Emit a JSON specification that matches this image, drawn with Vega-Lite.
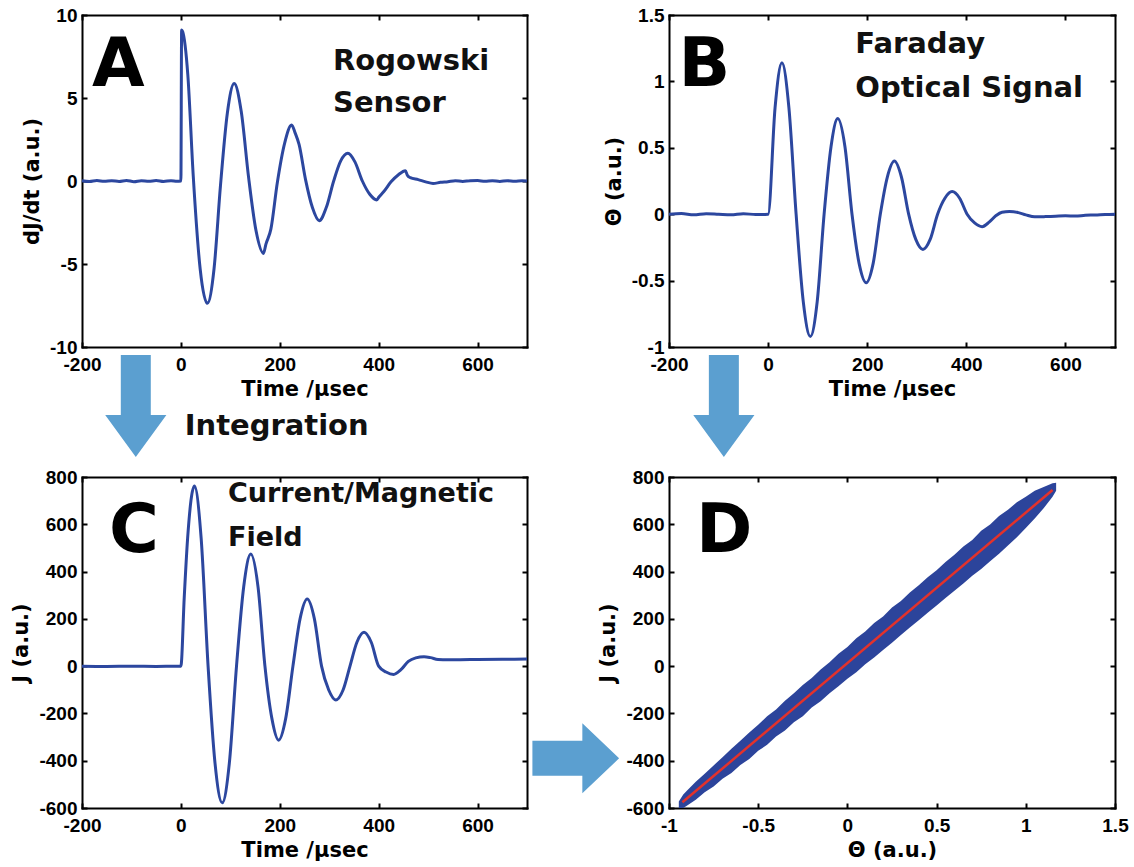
{
  "$schema": "https://vega.github.io/schema/vega-lite/v6.json",
  "background": "white",
  "padding": {"left": 10, "top": 6, "right": 5, "bottom": 5},
  "columns": 2,
  "bounds": "flush",
  "align": "all",
  "spacing": {"row": 130, "column": 141},
  "datasets": {
    "a": [
      {"t": -200, "v": 0.02}, {"t": -185, "v": -0.03}, {"t": -170, "v": 0.03}, {"t": -155, "v": -0.02}, {"t": -140, "v": 0.02}, {"t": -125, "v": -0.03}, {"t": -110, "v": 0.03}, {"t": -95, "v": -0.04}, {"t": -80, "v": 0.02}, {"t": -65, "v": -0.02}, {"t": -50, "v": 0.03}, {"t": -35, "v": -0.03}, {"t": -20, "v": 0.02}, {"t": -8, "v": -0.02}, {"t": 0, "v": 0},
      {"t": 1.5, "v": 9.1}, {"t": 3.5, "v": 9.0}, {"t": 14, "v": 6.4}, {"t": 25, "v": 0.3}, {"t": 39, "v": -5.3}, {"t": 53.5, "v": -7.37}, {"t": 67, "v": -5.3}, {"t": 80, "v": -0.3}, {"t": 94, "v": 4.1}, {"t": 107.8, "v": 5.88}, {"t": 122, "v": 4.2}, {"t": 137, "v": 0.2}, {"t": 152, "v": -3.0}, {"t": 167, "v": -4.36}, {"t": 172, "v": -3.8}, {"t": 182, "v": -2.9}, {"t": 195, "v": -0.1}, {"t": 210, "v": 2.3}, {"t": 224, "v": 3.37}, {"t": 231, "v": 2.9}, {"t": 239, "v": 2.2}, {"t": 252, "v": 0.1}, {"t": 266, "v": -1.6}, {"t": 279.8, "v": -2.39}, {"t": 294, "v": -1.6}, {"t": 309, "v": 0.0}, {"t": 323, "v": 1.2}, {"t": 337.7, "v": 1.67}, {"t": 352, "v": 1.15}, {"t": 367, "v": 0.0}, {"t": 382, "v": -0.8}, {"t": 396, "v": -1.14}, {"t": 401, "v": -0.95}, {"t": 410, "v": -0.65}, {"t": 425, "v": -0.05}, {"t": 440, "v": 0.38}, {"t": 454, "v": 0.62}, {"t": 458, "v": 0.35}, {"t": 464, "v": 0.2}, {"t": 480, "v": 0.08}, {"t": 495, "v": -0.05}, {"t": 510, "v": -0.15}, {"t": 525, "v": -0.08}, {"t": 540, "v": -0.04}, {"t": 555, "v": 0.02}, {"t": 570, "v": -0.03}, {"t": 585, "v": 0.02}, {"t": 600, "v": 0.03}, {"t": 615, "v": -0.02}, {"t": 630, "v": 0.02}, {"t": 645, "v": -0.03}, {"t": 660, "v": 0.02}, {"t": 675, "v": -0.02}, {"t": 690, "v": 0.02}, {"t": 700, "v": 0.0}
    ],
    "b": [
      {"t": -200, "v": 0.0}, {"t": -175, "v": 0.005}, {"t": -150, "v": -0.005}, {"t": -125, "v": 0.004}, {"t": -100, "v": 0.0}, {"t": -75, "v": -0.004}, {"t": -50, "v": 0.004}, {"t": -25, "v": -0.003}, {"t": 0, "v": 0.0},
      {"t": 14, "v": 0.8}, {"t": 27.9, "v": 1.14}, {"t": 42, "v": 0.8}, {"t": 56.5, "v": 0}, {"t": 71, "v": -0.66}, {"t": 85.3, "v": -0.92}, {"t": 99, "v": -0.66}, {"t": 113, "v": 0}, {"t": 127, "v": 0.51}, {"t": 140.6, "v": 0.72}, {"t": 155, "v": 0.51}, {"t": 169.3, "v": 0}, {"t": 183.6, "v": -0.37}, {"t": 198, "v": -0.516}, {"t": 212, "v": -0.37}, {"t": 226.4, "v": 0}, {"t": 240.6, "v": 0.28}, {"t": 254.8, "v": 0.4}, {"t": 269, "v": 0.28}, {"t": 283.6, "v": 0}, {"t": 298, "v": -0.19}, {"t": 312.4, "v": -0.265}, {"t": 327, "v": -0.19}, {"t": 342, "v": 0}, {"t": 356.7, "v": 0.12}, {"t": 371.4, "v": 0.17}, {"t": 386.5, "v": 0.12}, {"t": 401.6, "v": 0}, {"t": 416.7, "v": -0.066}, {"t": 431.8, "v": -0.094}, {"t": 446, "v": -0.06}, {"t": 460, "v": -0.01}, {"t": 472, "v": 0.015}, {"t": 487, "v": 0.02}, {"t": 505, "v": 0.012}, {"t": 520, "v": -0.005}, {"t": 538, "v": -0.02}, {"t": 560, "v": -0.018}, {"t": 580, "v": -0.015}, {"t": 600, "v": -0.012}, {"t": 620, "v": -0.014}, {"t": 640, "v": -0.008}, {"t": 660, "v": -0.006}, {"t": 680, "v": -0.002}, {"t": 700, "v": 0.0}
    ],
    "c": [
      {"t": -200, "v": 0}, {"t": -150, "v": -1}, {"t": -100, "v": 0}, {"t": -50, "v": -1}, {"t": -10, "v": 0}, {"t": 0, "v": 0},
      {"t": 6.8, "v": 292}, {"t": 13.6, "v": 540}, {"t": 27.3, "v": 762}, {"t": 41, "v": 540}, {"t": 55, "v": 0}, {"t": 69, "v": -410}, {"t": 83.6, "v": -578}, {"t": 98, "v": -410}, {"t": 112.5, "v": 0}, {"t": 127, "v": 335}, {"t": 141.4, "v": 474}, {"t": 156, "v": 335}, {"t": 170, "v": 0}, {"t": 184, "v": -221}, {"t": 197.7, "v": -313}, {"t": 212, "v": -221}, {"t": 226.6, "v": 0}, {"t": 241, "v": 200}, {"t": 255.5, "v": 284}, {"t": 270, "v": 200}, {"t": 284.5, "v": 0}, {"t": 299, "v": -101}, {"t": 313.4, "v": -143}, {"t": 328, "v": -101}, {"t": 342, "v": 0}, {"t": 356, "v": 101}, {"t": 370.4, "v": 143}, {"t": 385, "v": 101}, {"t": 400, "v": 0}, {"t": 415, "v": -25}, {"t": 430.3, "v": -35}, {"t": 445, "v": -15}, {"t": 460, "v": 20}, {"t": 475, "v": 35}, {"t": 491.7, "v": 40}, {"t": 505, "v": 36}, {"t": 520, "v": 28}, {"t": 540, "v": 27}, {"t": 560, "v": 27}, {"t": 600, "v": 28}, {"t": 650, "v": 29}, {"t": 700, "v": 30}
    ],
    "dband": [
      {"theta": -0.945, "lo": -600, "hi": -572}, {"theta": -0.92, "lo": -600, "hi": -543}, {"theta": -0.9, "lo": -591, "hi": -527}, {"theta": -0.85, "lo": -565, "hi": -489}, {"theta": -0.8, "lo": -533, "hi": -455}, {"theta": -0.75, "lo": -509, "hi": -420}, {"theta": -0.7, "lo": -476, "hi": -385}, {"theta": -0.65, "lo": -452, "hi": -349}, {"theta": -0.6, "lo": -418, "hi": -316}, {"theta": -0.55, "lo": -393, "hi": -281}, {"theta": -0.5, "lo": -358, "hi": -248}, {"theta": -0.45, "lo": -333, "hi": -212}, {"theta": -0.4, "lo": -298, "hi": -183}, {"theta": -0.35, "lo": -272, "hi": -146}, {"theta": -0.3, "lo": -237, "hi": -115}, {"theta": -0.25, "lo": -212, "hi": -80}, {"theta": -0.2, "lo": -175, "hi": -50}, {"theta": -0.15, "lo": -149, "hi": -14}, {"theta": -0.1, "lo": -115, "hi": 16}, {"theta": -0.05, "lo": -85, "hi": 52}, {"theta": 0.0, "lo": -53, "hi": 81}, {"theta": 0.05, "lo": -26, "hi": 118}, {"theta": 0.1, "lo": 8, "hi": 146}, {"theta": 0.15, "lo": 37, "hi": 183}, {"theta": 0.2, "lo": 68, "hi": 210}, {"theta": 0.25, "lo": 99, "hi": 248}, {"theta": 0.3, "lo": 132, "hi": 276}, {"theta": 0.35, "lo": 163, "hi": 311}, {"theta": 0.4, "lo": 194, "hi": 342}, {"theta": 0.45, "lo": 226, "hi": 376}, {"theta": 0.5, "lo": 256, "hi": 406}, {"theta": 0.55, "lo": 288, "hi": 441}, {"theta": 0.6, "lo": 319, "hi": 471}, {"theta": 0.65, "lo": 350, "hi": 506}, {"theta": 0.7, "lo": 382, "hi": 534}, {"theta": 0.75, "lo": 411, "hi": 573}, {"theta": 0.8, "lo": 444, "hi": 599}, {"theta": 0.85, "lo": 475, "hi": 635}, {"theta": 0.9, "lo": 510, "hi": 661}, {"theta": 0.95, "lo": 545, "hi": 693}, {"theta": 1.0, "lo": 584, "hi": 716}, {"theta": 1.05, "lo": 624, "hi": 742}, {"theta": 1.1, "lo": 668, "hi": 758}, {"theta": 1.15, "lo": 716, "hi": 774}, {"theta": 1.17, "lo": 742, "hi": 776}
    ],
    "dfit": [{"theta": -0.925, "j": -576}, {"theta": 1.15, "j": 745}],
    "txtA": [{"x": 307.7, "y": 6.69, "text": "Rogowski"}, {"x": 307.7, "y": 4.17, "text": "Sensor"}, {"x": 7.7, "y": -15.3, "text": "Integration"}],
    "letA": [{"x": -179.8, "y": 5.72, "text": "A"}],
    "arrowA": [{"x": -91.2, "y": -13.55}],
    "txtB": [{"x": 175.9, "y": 1.212, "text": "Faraday"}, {"x": 175.9, "y": 0.885, "text": "Optical Signal"}],
    "letB": [{"x": -180.9, "y": 0.965, "text": "B"}],
    "arrowB": [{"x": -89.3, "y": -1.444}],
    "txtC": [{"x": 95.3, "y": 695.4, "text": "Current/Magnetic"}, {"x": 95.3, "y": 509.3, "text": "Field"}],
    "letC": [{"x": -145.4, "y": 482.7, "text": "C"}],
    "arrowC": [{"x": 798.6, "y": -390}],
    "letD": [{"x": -0.849, "y": 482.7, "text": "D"}]
  },
  "concat": [
    {
      "width": 445, "height": 332,
      "layer": [
        {
          "data": {"name": "a"},
          "mark": {"type": "line", "color": "#2C479F", "strokeWidth": 3, "interpolate": "monotone"},
          "encoding": {
            "x": {"field": "t", "type": "quantitative", "scale": {"domain": [-200, 700], "nice": false, "zero": false},
                  "axis": {"orient": "bottom", "title": "Time /µsec", "values": [-200, 0, 200, 400, 600], "labelExpr": "replace(format(datum.value, '~g'), '\u2212', '-')"}},
            "y": {"field": "v", "type": "quantitative", "scale": {"domain": [-10, 10], "nice": false, "zero": false},
                  "axis": {"orient": "left", "title": "dJ/dt (a.u.)", "values": [-10, -5, 0, 5, 10], "labelExpr": "replace(format(datum.value, '~g'), '\u2212', '-')"}}
          }
        },
        {
          "data": {"name": "letA"},
          "mark": {"type": "text", "font": "DejaVu Sans", "fontWeight": "bold", "fontSize": 68, "align": "left", "baseline": "alphabetic", "color": "#000"},
          "encoding": {
            "x": {"field": "x", "type": "quantitative", "axis": {"orient": "top", "labels": false, "title": null, "values": [-200, 0, 200, 400, 600]}},
            "y": {"field": "y", "type": "quantitative", "axis": {"orient": "right", "labels": false, "title": null, "values": [-10, -5, 0, 5, 10]}},
            "text": {"field": "text"}
          }
        },
        {
          "data": {"name": "txtA"},
          "mark": {"type": "text", "font": "DejaVu Sans", "fontWeight": "bold", "fontSize": 29, "align": "left", "baseline": "alphabetic", "color": "#111"},
          "encoding": {
            "x": {"field": "x", "type": "quantitative", "axis": null},
            "y": {"field": "y", "type": "quantitative", "axis": null},
            "text": {"field": "text"}
          }
        },
        {
          "data": {"name": "arrowA"},
          "mark": {"type": "point", "shape": "M-0.294,-1 L0.294,-1 L0.294,0.176 L0.6,0.176 L0,1 L-0.6,0.176 L-0.294,0.176 Z", "size": 10404, "filled": true, "color": "#5B9FD0", "opacity": 1, "strokeWidth": 0},
          "encoding": {
            "x": {"field": "x", "type": "quantitative", "axis": null},
            "y": {"field": "y", "type": "quantitative", "axis": null}
          }
        }
      ]
    },
    {
      "width": 446, "height": 332,
      "layer": [
        {
          "data": {"name": "b"},
          "mark": {"type": "line", "color": "#2C479F", "strokeWidth": 3, "interpolate": "monotone"},
          "encoding": {
            "x": {"field": "t", "type": "quantitative", "scale": {"domain": [-200, 700], "nice": false, "zero": false},
                  "axis": {"orient": "bottom", "title": "Time /µsec", "values": [-200, 0, 200, 400, 600], "labelExpr": "replace(format(datum.value, '~g'), '\u2212', '-')"}},
            "y": {"field": "v", "type": "quantitative", "scale": {"domain": [-1, 1.5], "nice": false, "zero": false},
                  "axis": {"orient": "left", "title": "Θ (a.u.)", "values": [-1, -0.5, 0, 0.5, 1, 1.5], "labelExpr": "replace(format(datum.value, '~g'), '\u2212', '-')"}}
          }
        },
        {
          "data": {"name": "letB"},
          "mark": {"type": "text", "font": "DejaVu Sans", "fontWeight": "bold", "fontSize": 68, "align": "left", "baseline": "alphabetic", "color": "#000"},
          "encoding": {
            "x": {"field": "x", "type": "quantitative", "axis": {"orient": "top", "labels": false, "title": null, "values": [-200, 0, 200, 400, 600]}},
            "y": {"field": "y", "type": "quantitative", "axis": {"orient": "right", "labels": false, "title": null, "values": [-1, -0.5, 0, 0.5, 1, 1.5]}},
            "text": {"field": "text"}
          }
        },
        {
          "data": {"name": "txtB"},
          "mark": {"type": "text", "font": "DejaVu Sans", "fontWeight": "bold", "fontSize": 29, "align": "left", "baseline": "alphabetic", "color": "#111"},
          "encoding": {
            "x": {"field": "x", "type": "quantitative", "axis": null},
            "y": {"field": "y", "type": "quantitative", "axis": null},
            "text": {"field": "text"}
          }
        },
        {
          "data": {"name": "arrowB"},
          "mark": {"type": "point", "shape": "M-0.294,-1 L0.294,-1 L0.294,0.176 L0.6,0.176 L0,1 L-0.6,0.176 L-0.294,0.176 Z", "size": 10404, "filled": true, "color": "#5B9FD0", "opacity": 1, "strokeWidth": 0},
          "encoding": {
            "x": {"field": "x", "type": "quantitative", "axis": null},
            "y": {"field": "y", "type": "quantitative", "axis": null}
          }
        }
      ]
    },
    {
      "width": 445, "height": 331,
      "layer": [
        {
          "data": {"name": "c"},
          "mark": {"type": "line", "color": "#2C479F", "strokeWidth": 3, "interpolate": "monotone"},
          "encoding": {
            "x": {"field": "t", "type": "quantitative", "scale": {"domain": [-200, 700], "nice": false, "zero": false},
                  "axis": {"orient": "bottom", "title": "Time /µsec", "values": [-200, 0, 200, 400, 600], "labelExpr": "replace(format(datum.value, '~g'), '\u2212', '-')"}},
            "y": {"field": "v", "type": "quantitative", "scale": {"domain": [-600, 800], "nice": false, "zero": false},
                  "axis": {"orient": "left", "title": "J (a.u.)", "values": [-600, -400, -200, 0, 200, 400, 600, 800], "labelExpr": "replace(format(datum.value, '~g'), '\u2212', '-')"}}
          }
        },
        {
          "data": {"name": "letC"},
          "mark": {"type": "text", "font": "DejaVu Sans", "fontWeight": "bold", "fontSize": 68, "align": "left", "baseline": "alphabetic", "color": "#000"},
          "encoding": {
            "x": {"field": "x", "type": "quantitative", "axis": {"orient": "top", "labels": false, "title": null, "values": [-200, 0, 200, 400, 600]}},
            "y": {"field": "y", "type": "quantitative", "axis": {"orient": "right", "labels": false, "title": null, "values": [-600, -400, -200, 0, 200, 400, 600, 800]}},
            "text": {"field": "text"}
          }
        },
        {
          "data": {"name": "txtC"},
          "mark": {"type": "text", "font": "DejaVu Sans", "fontWeight": "bold", "fontSize": 27, "align": "left", "baseline": "alphabetic", "color": "#111"},
          "encoding": {
            "x": {"field": "x", "type": "quantitative", "axis": null},
            "y": {"field": "y", "type": "quantitative", "axis": null},
            "text": {"field": "text"}
          }
        },
        {
          "data": {"name": "arrowC"},
          "mark": {"type": "point", "shape": "M-1,-0.404 L0.152,-0.404 L0.152,-0.807 L1,0 L0.152,0.807 L0.152,0.404 L-1,0.404 Z", "size": 7516, "filled": true, "color": "#5B9FD0", "opacity": 1, "strokeWidth": 0},
          "encoding": {
            "x": {"field": "x", "type": "quantitative", "axis": null},
            "y": {"field": "y", "type": "quantitative", "axis": null}
          }
        }
      ]
    },
    {
      "width": 446, "height": 331,
      "layer": [
        {
          "data": {"name": "dband"},
          "mark": {"type": "area", "color": "#2C449B", "opacity": 1},
          "encoding": {
            "x": {"field": "theta", "type": "quantitative", "scale": {"domain": [-1, 1.5], "nice": false, "zero": false},
                  "axis": {"orient": "bottom", "title": "Θ (a.u.)", "values": [-1, -0.5, 0, 0.5, 1, 1.5], "labelExpr": "replace(format(datum.value, '~g'), '\u2212', '-')"}},
            "y": {"field": "lo", "type": "quantitative", "scale": {"domain": [-600, 800], "nice": false, "zero": false},
                  "axis": {"orient": "left", "title": "J (a.u.)", "values": [-600, -400, -200, 0, 200, 400, 600, 800], "labelExpr": "replace(format(datum.value, '~g'), '\u2212', '-')"}},
            "y2": {"field": "hi"}
          }
        },
        {
          "data": {"name": "dfit"},
          "mark": {"type": "line", "color": "#E3322B", "strokeWidth": 2.5},
          "encoding": {
            "x": {"field": "theta", "type": "quantitative", "axis": null},
            "y": {"field": "j", "type": "quantitative", "axis": null}
          }
        },
        {
          "data": {"name": "letD"},
          "mark": {"type": "text", "font": "DejaVu Sans", "fontWeight": "bold", "fontSize": 68, "align": "left", "baseline": "alphabetic", "color": "#000"},
          "encoding": {
            "x": {"field": "x", "type": "quantitative", "axis": {"orient": "top", "labels": false, "title": null, "values": [-1, -0.5, 0, 0.5, 1, 1.5]}},
            "y": {"field": "y", "type": "quantitative", "axis": {"orient": "right", "labels": false, "title": null, "values": [-600, -400, -200, 0, 200, 400, 600, 800]}},
            "text": {"field": "text"}
          }
        }
      ]
    }
  ],
  "config": {
    "view": {"stroke": null},
    "axis": {
      "grid": false, "domainColor": "#000", "domainWidth": 2, "domainCap": "square",
      "tickColor": "#000", "tickWidth": 2, "tickSize": -5,
      "labelFont": "Liberation Sans", "labelFontSize": 19, "labelFontWeight": "bold", "labelColor": "#000",
      "labelOverlap": false, "labelFlush": false,
      "titleFont": "DejaVu Sans", "titleFontSize": 21, "titleFontWeight": "bold", "titleColor": "#000"
    },
    "axisBottom": {"labelPadding": 13, "titlePadding": 4},
    "axisLeft": {"labelPadding": 10, "titlePadding": 7}
  }
}
